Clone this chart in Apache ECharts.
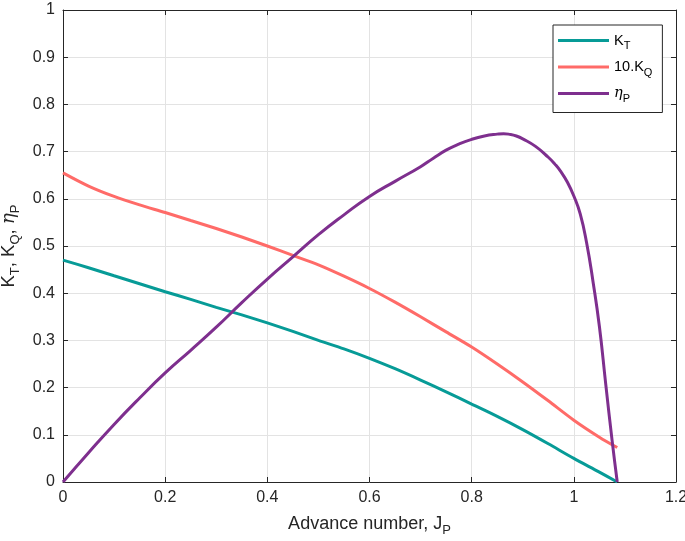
<!DOCTYPE html>
<html>
<head>
<meta charset="utf-8">
<script src="https://cdn.jsdelivr.net/npm/echarts@6/dist/echarts.min.js"></script>
<style>
html,body{margin:0;padding:0;background:#fff;}
#chart{width:685px;height:541px;}
</style>
</head>
<body>
<div id="chart"></div>
<script>
// Advance number J values and curves
var jKT = [0, 0.05, 0.1, 0.15, 0.2, 0.25, 0.3, 0.35, 0.4, 0.45, 0.5, 0.55, 0.6, 0.65, 0.7, 0.75, 0.8, 0.85, 0.9, 0.95, 1.0, 1.05, 1.085];
var kt  = [0.470, 0.454, 0.437, 0.420, 0.403, 0.387, 0.370, 0.354, 0.337, 0.319, 0.300, 0.282, 0.262, 0.240, 0.216, 0.191, 0.165, 0.139, 0.111, 0.081, 0.050, 0.021, 0.0];

var jKQ = [0, 0.05, 0.1, 0.15, 0.2, 0.25, 0.3, 0.35, 0.4, 0.45, 0.5, 0.55, 0.6, 0.65, 0.7, 0.75, 0.8, 0.85, 0.9, 0.95, 1.0, 1.05, 1.085];
var kq10 = [0.655, 0.627, 0.605, 0.587, 0.571, 0.554, 0.537, 0.519, 0.500, 0.480, 0.460, 0.436, 0.410, 0.381, 0.350, 0.318, 0.286, 0.250, 0.212, 0.172, 0.131, 0.095, 0.073];

var jEta = [0, 0.05, 0.1, 0.15, 0.2, 0.25, 0.3, 0.35, 0.4, 0.45, 0.5, 0.55, 0.6, 0.65, 0.7, 0.725, 0.75, 0.775, 0.8, 0.825, 0.85, 0.8625, 0.875, 0.8875, 0.9, 0.925, 0.95, 0.9625, 0.975, 0.9875, 1.0, 1.0125, 1.025, 1.0375, 1.05, 1.0625, 1.075, 1.085];
var eta  = [0, 0.062, 0.122, 0.178, 0.231, 0.279, 0.328, 0.380, 0.430, 0.477, 0.524, 0.566, 0.605, 0.637, 0.668, 0.686, 0.703, 0.716, 0.726, 0.733, 0.737, 0.738, 0.7365, 0.733, 0.727, 0.711, 0.688, 0.674, 0.657, 0.635, 0.606, 0.568, 0.507, 0.425, 0.330, 0.207, 0.087, 0.0];

var xTicks = [0, 0.2, 0.4, 0.6, 0.8, 1, 1.2];
var yTicks = [0, 0.1, 0.2, 0.3, 0.4, 0.5, 0.6, 0.7, 0.8, 0.9, 1];

var seriesNames = ['KT', '10.KQ', 'etaP'];
var colors = ['#079b97', '#ff6b68', '#7e2f8e'];

function pairs(xs, ys) { return xs.map(function (x, i) { return [x, ys[i]]; }); }

var axisColor = '#262626';
var font = 'Liberation Sans, Arial, Helvetica, sans-serif';

var chart = echarts.init(document.getElementById('chart'), null, {renderer: 'canvas'});
var legendRich = {
  b: {fontSize: 14.5, fontFamily: font, color: '#000'},
  s: {fontSize: 11, fontFamily: font, color: '#000', padding: [11, 0, 0, 0]},
  g: {fontSize: 14.5, fontFamily: 'DejaVu Serif, serif', fontStyle: 'italic', color: '#000'}
};
var legendText = {
  'KT': '{b|K}{s|T}',
  '10.KQ': '{b|10.K}{s|Q}',
  'etaP': '{g|η}{s|P}'
};

var option = {
  animation: false,
  backgroundColor: '#fff',
  grid: {left: 63, right: 9, top: 10, bottom: 59, containLabel: false, outerBoundsMode: 'none'},
  legend: {
    orient: 'vertical',
    left: 553,
    top: 25,
    icon: 'rect',
    itemWidth: 51,
    itemHeight: 3,
    itemGap: 8,
    padding: [8, 10, 8, 5],
    backgroundColor: '#fff',
    borderColor: axisColor,
    borderWidth: 1,
    borderRadius: 0,
    data: seriesNames,
    formatter: function (name) { return legendText[name]; },
    textStyle: {rich: legendRich, fontSize: 14.5, padding: [0, 0, 0, 0]}
  },
  xAxis: [{
    type: 'value', min: xTicks[0], max: xTicks[xTicks.length - 1], interval: 0.2,
    position: 'bottom',
    name: '{a|Advance number, J}{s|P}',
    nameLocation: 'middle', nameGap: 29,
    nameTextStyle: {rich: {
      a: {fontSize: 18, fontFamily: font, color: '#262626'},
      s: {fontSize: 13, fontFamily: font, color: '#262626', padding: [13, 0, 0, 0]}
    }},
    axisLine: {show: true, lineStyle: {color: axisColor, width: 1}},
    axisTick: {show: true, inside: true, length: 5, lineStyle: {color: axisColor}},
    axisLabel: {margin: 8, fontSize: 16, fontFamily: font, color: '#262626'},
    splitLine: {show: true, lineStyle: {color: '#e3e3e3', width: 1}}
  }, {
    type: 'value', min: xTicks[0], max: xTicks[xTicks.length - 1], interval: 0.2,
    position: 'top',
    axisLine: {show: true, onZero: false, lineStyle: {color: axisColor, width: 1}},
    axisTick: {show: true, inside: true, length: 5, lineStyle: {color: axisColor}},
    axisLabel: {show: false},
    splitLine: {show: false}
  }],
  yAxis: [{
    type: 'value', min: yTicks[0], max: yTicks[yTicks.length - 1], interval: 0.1,
    position: 'left',
    name: '{a|K}{s|T}{a|, K}{s|Q}{a|, }{g|η}{s|P}',
    nameLocation: 'middle', nameGap: 38, nameRotate: 90,
    nameTextStyle: {rich: {
      a: {fontSize: 18.5, fontFamily: font, color: '#262626'},
      g: {fontSize: 18.5, fontFamily: 'DejaVu Serif, serif', fontStyle: 'italic', color: '#262626'},
      s: {fontSize: 13, fontFamily: font, color: '#262626', padding: [13, 0, 0, 0]}
    }},
    axisLine: {show: true, lineStyle: {color: axisColor, width: 1}},
    axisTick: {show: true, inside: true, length: 5, lineStyle: {color: axisColor}},
    axisLabel: {margin: 8, fontSize: 16, fontFamily: font, color: '#262626'},
    splitLine: {show: true, lineStyle: {color: '#e3e3e3', width: 1}}
  }, {
    type: 'value', min: yTicks[0], max: yTicks[yTicks.length - 1], interval: 0.1,
    position: 'right',
    axisLine: {show: true, onZero: false, lineStyle: {color: axisColor, width: 1}},
    axisTick: {show: true, inside: true, length: 5, lineStyle: {color: axisColor}},
    axisLabel: {show: false},
    splitLine: {show: false}
  }],
  series: [
    {name: seriesNames[0], type: 'line', data: pairs(jKT, kt), smooth: 0.3, symbol: 'none',
     lineStyle: {color: colors[0], width: 3}, itemStyle: {color: colors[0]}},
    {name: seriesNames[1], type: 'line', data: pairs(jKQ, kq10), smooth: 0.3, symbol: 'none',
     lineStyle: {color: colors[1], width: 3}, itemStyle: {color: colors[1]}},
    {name: seriesNames[2], type: 'line', data: pairs(jEta, eta), smooth: 0.5, symbol: 'none',
     lineStyle: {color: colors[2], width: 3}, itemStyle: {color: colors[2]}}
  ]
};
chart.setOption(option);
</script>
</body>
</html>
